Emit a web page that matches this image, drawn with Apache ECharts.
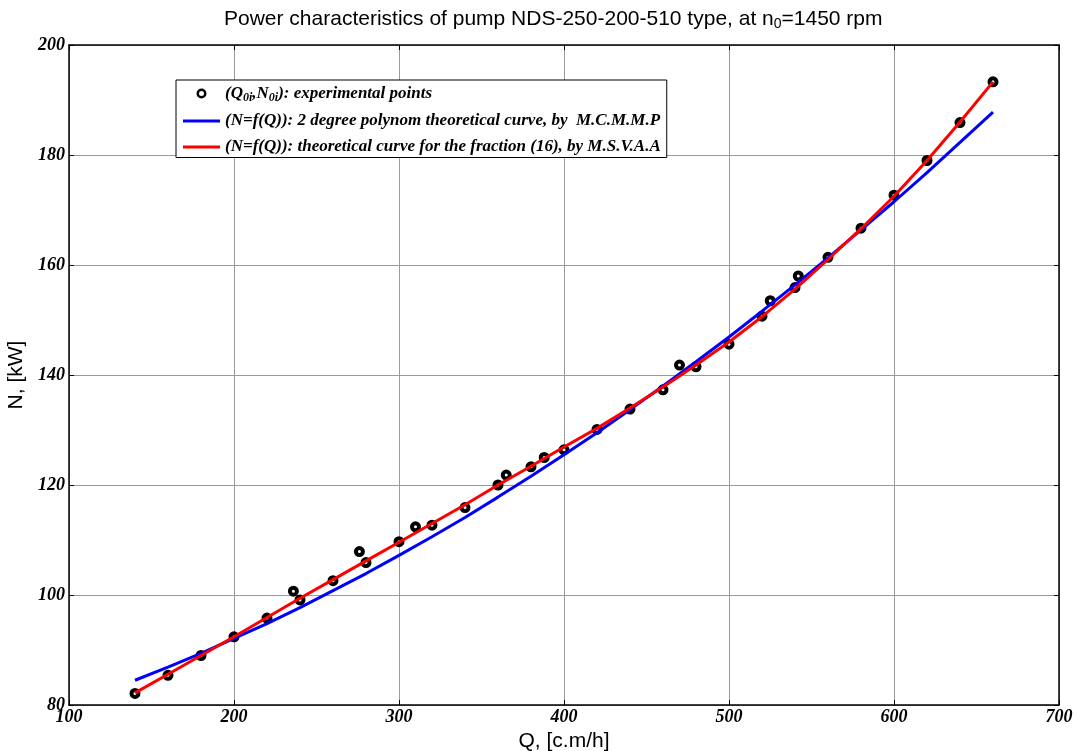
<!DOCTYPE html>
<html>
<head>
<meta charset="utf-8">
<script src="https://cdn.jsdelivr.net/npm/echarts@6/dist/echarts.min.js"></script>
<style>html,body{margin:0;padding:0;background:#fff;overflow:hidden;width:1078px;height:751px}#c{width:1078px;height:751px;overflow:hidden}</style>
</head>
<body>
<div id="c"></div>
<script>
// Experimental points
var qExp = [140,160,180,200,220,236,240,260,276,280,300,310,320,340,360,365,380,388,400,420,440,460,470,480,500,520,525,540,542,560,580,600,620,640,660];
var nExp = [82.1,85.4,89.0,92.4,95.8,100.7,99.1,102.6,107.9,105.9,109.7,112.4,112.7,115.9,120.0,121.8,123.3,125.0,126.4,130.1,133.8,137.3,141.8,141.5,145.6,150.7,153.5,155.9,158.0,161.4,166.7,172.7,179.0,185.9,193.3];
// Theoretical curves sampled along Q
var qCurve = [140,160,180,200,220,240,260,280,300,320,340,360,380,400,420,440,460,480,500,520,540,560,580,600,620,640,660];
var nBlue  = [84.5,86.9,89.4,92.1,94.8,97.7,100.8,103.9,107.2,110.6,114.1,117.8,121.6,125.5,129.5,133.7,138.0,142.4,146.9,151.6,156.4,161.3,166.4,171.5,176.8,182.3,187.8];
var nRed   = [82.2,85.6,89.0,92.4,95.9,99.4,102.8,106.2,109.6,113.0,116.4,120.0,123.4,126.9,130.3,134.0,137.8,141.8,146.0,150.6,155.6,161.0,166.6,172.5,179.0,186.0,193.3];
var xTicks = [100,200,300,400,500,600,700];
var yTicks = [80,100,120,140,160,180,200];

var nameExp = 'exp', nameBlue = 'blue', nameRed = 'red';
var legendText = {};
legendText[nameExp] = '(Q{s|0i},N{s|0i}): experimental points';
legendText[nameBlue] = '(N=f(Q)): 2 degree polynom theoretical curve, by  M.C.M.M.P';
legendText[nameRed] = '(N=f(Q)): theoretical curve for the fraction (16), by M.S.V.A.A';

function pairs(xs, ys){ return xs.map(function(x,i){ return [x, ys[i]]; }); }

var ringIcon = 'path://M0,0 M16,16 M8,3 A5,5 0 1,0 8,13 A5,5 0 1,0 8,3 Z M8,5.5 A2.5,2.5 0 1,1 8,10.5 A2.5,2.5 0 1,1 8,5.5 Z';
var lineIcon = 'path://M0,0 L37,0 L37,3 L0,3 Z';

var tickFont = {fontFamily:'Liberation Serif', fontWeight:'bold', fontStyle:'italic', fontSize:18, color:'#000'};
var nameFont = {fontFamily:'Liberation Sans', fontSize:21, color:'#000'};
var chart = echarts.init(document.getElementById('c'), null, {renderer:'canvas', width:1078, height:751});
chart.setOption({
  animation:false,
  backgroundColor:'#fff',
  title:{
    text:'Power characteristics of pump NDS-250-200-510 type, at n{s|0}=1450 rpm',
    left:219, top:2,
    textStyle:{fontFamily:'Liberation Sans', fontWeight:'normal', fontSize:21, color:'#000',
      rich:{s:{fontFamily:'Liberation Sans', fontSize:14, color:'#000', padding:[10,0,0,0]}}}
  },
  grid:{left:69, right:19, top:45, bottom:46, containLabel:false, outerBoundsMode:'none'},
  legend:{
    orient:'vertical', left:176, top:80,
    padding:[5,6,2,7], itemGap:9, itemWidth:37, itemHeight:16,
    backgroundColor:'#fff', borderColor:'#000', borderWidth:1,
    data:[
      {name:nameExp, icon:ringIcon, itemStyle:{color:'#000', borderWidth:0}},
      {name:nameBlue, icon:lineIcon, itemStyle:{color:'#0000ff', borderWidth:0}},
      {name:nameRed, icon:lineIcon, itemStyle:{color:'#ff0000', borderWidth:0}}
    ],
    formatter:function(n){ return legendText[n]; },
    textStyle:{fontFamily:'Liberation Serif', fontWeight:'bold', fontStyle:'italic', fontSize:17, color:'#000',
      rich:{s:{fontFamily:'Liberation Serif', fontWeight:'bold', fontStyle:'italic', fontSize:12, color:'#000', padding:[8,0,0,0]}}}
  },
  xAxis:[{
    type:'value', min:xTicks[0], max:xTicks[xTicks.length-1], interval:100,
    name:'Q, [c.m/h]', nameLocation:'middle', nameGap:24,
    nameTextStyle:nameFont,
    axisLine:{show:true, onZero:false, lineStyle:{color:'#000', width:1.5}},
    axisTick:{show:true, inside:true, length:5, lineStyle:{color:'#000'}},
    axisLabel:Object.assign({margin:3, showMinLabel:true, showMaxLabel:true}, tickFont),
    splitLine:{show:true, lineStyle:{color:'#9a9a9a', width:1}}
  },{
    type:'value', position:'top', min:xTicks[0], max:xTicks[xTicks.length-1], interval:100,
    axisLine:{show:true, lineStyle:{color:'#000', width:1.5}},
    axisTick:{show:true, inside:true, length:5, lineStyle:{color:'#000'}},
    axisLabel:{show:false}, splitLine:{show:false}
  }],
  yAxis:[{
    type:'value', min:yTicks[0], max:yTicks[yTicks.length-1], interval:20,
    name:'N, [kW]', nameLocation:'middle', nameGap:29, nameRotate:90,
    nameTextStyle:nameFont,
    axisLine:{show:true, onZero:false, lineStyle:{color:'#000', width:1.5}},
    axisTick:{show:true, inside:true, length:5, lineStyle:{color:'#000'}},
    axisLabel:Object.assign({margin:4, showMinLabel:true, showMaxLabel:true}, tickFont),
    splitLine:{show:true, lineStyle:{color:'#9a9a9a', width:1}}
  },{
    type:'value', position:'right', min:yTicks[0], max:yTicks[yTicks.length-1], interval:20,
    axisLine:{show:true, lineStyle:{color:'#000', width:1.5}},
    axisTick:{show:true, inside:true, length:5, lineStyle:{color:'#000'}},
    axisLabel:{show:false}, splitLine:{show:false}
  }],
  series:[{
    name:nameExp, type:'scatter', data:pairs(qExp,nExp),
    symbol:'circle', symbolSize:7,
    itemStyle:{color:'#fff', borderColor:'#000', borderWidth:4, opacity:1}
  },{
    name:nameBlue, type:'line', data:pairs(qCurve,nBlue), showSymbol:false, symbol:'none',
    lineStyle:{color:'#0000ff', width:3}, itemStyle:{color:'#0000ff'}
  },{
    name:nameRed, type:'line', data:pairs(qCurve,nRed), showSymbol:false, symbol:'none',
    lineStyle:{color:'#ff0000', width:3}, itemStyle:{color:'#ff0000'}
  }]
});
</script>
</body>
</html>
